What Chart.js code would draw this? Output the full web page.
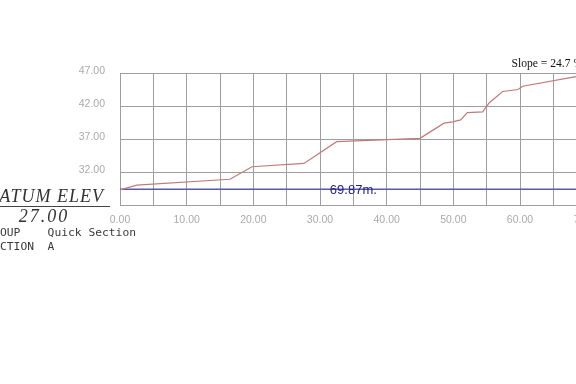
<!DOCTYPE html>
<html>
<head>
<meta charset="utf-8">
<script src="https://cdn.jsdelivr.net/npm/chart.js@4"></script>
<style>
  html, body { margin: 0; padding: 0; background: #fff; overflow: hidden; }
  #wrap { width: 576px; height: 384px; overflow: hidden; position: relative; }
  canvas { position: absolute; left: 0; top: 0; }
</style>
</head>
<body>
<div id="wrap"><canvas id="section" width="629" height="384"></canvas></div>
<script>
// ground profile
const stations   = [0, 2.5, 16.5, 19.8, 27.6, 32.5, 45.0, 48.6, 49.9, 51.1, 52.1, 54.4, 55.4, 57.4, 59.7, 60.4, 68.6, 70];
const elevations = [29.3, 30.0, 30.9, 32.8, 33.3, 36.6, 37.1, 39.4, 39.6, 39.9, 41.0, 41.1, 42.5, 44.2, 44.5, 45.0, 46.5, 46.75];

// datum line
const datumStations = [0, 75];
const datumElev = [29.38, 29.38];
const datumText = '69.87m.';
const datumTextAt = 35;

const xTicks = [0, 10, 20, 30, 40, 50, 60, 70];
const yTicks = [32, 37, 42, 47];
const slopeText = 'Slope = 24.7 %';

const extras = {
  id: 'extras',
  afterDraw(chart) {
    const ctx = chart.ctx;
    const xs = chart.scales.x, ys = chart.scales.y;
    ctx.save();

    // datum label sitting on the line
    ctx.font = '13px "Liberation Sans", Arial, sans-serif';
    ctx.fillStyle = '#232383';
    ctx.textAlign = 'center';
    ctx.textBaseline = 'middle';
    ctx.fillText(datumText, xs.getPixelForValue(datumTextAt), ys.getPixelForValue(datumElev[0]) + 1);

    // slope note
    ctx.font = '11.6px "Liberation Serif", "Times New Roman", serif';
    ctx.fillStyle = '#111';
    ctx.textAlign = 'left';
    ctx.textBaseline = 'alphabetic';
    ctx.fillText(slopeText, 511.5, 66.5);

    // left side title block
    ctx.fillStyle = '#333';
    ctx.font = 'italic 18px "Liberation Serif", serif';
    ctx.letterSpacing = '1px';
    ctx.textAlign = 'right';
    ctx.fillText('DATUM ELEV', 104, 201.5);
    ctx.strokeStyle = '#444';
    ctx.lineWidth = 1;
    ctx.beginPath();
    ctx.moveTo(0, 206.5);
    ctx.lineTo(110, 206.5);
    ctx.stroke();

    ctx.letterSpacing = '2px';
    ctx.textAlign = 'center';
    ctx.fillText('27.00', 44, 221.5);

    ctx.letterSpacing = '0px';
    ctx.font = '11.3px "DejaVu Sans Mono", monospace';
    ctx.textAlign = 'left';
    ctx.fillStyle = '#3a3a3a';
    ctx.fillText('GROUP    Quick Section', -13.6, 236);
    ctx.fillText('SECTION  A', -13.6, 250);
    ctx.restore();
  }
};

new Chart(document.getElementById('section'), {
  type: 'line',
  data: {
    datasets: [
      {
        label: 'Ground',
        data: stations.map((s, i) => ({ x: s, y: elevations[i] })),
        borderColor: '#bf7a7a',
        borderWidth: 1.2,
        pointRadius: 0,
        tension: 0
      },
      {
        label: 'Datum',
        data: datumStations.map((s, i) => ({ x: s, y: datumElev[i] })),
        borderColor: '#5a5aa6',
        borderWidth: 1.5,
        pointRadius: 0
      }
    ]
  },
  options: {
    responsive: false,
    animation: false,
    layout: { padding: { top: 73, left: 0, right: 1, bottom: 0 } },
    plugins: { legend: { display: false }, tooltip: { enabled: false } },
    scales: {
      x: {
        type: 'linear',
        min: 0,
        max: 75,
        afterFit: s => { s.height = 179; },
        grid: { color: '#9e9e9e', lineWidth: 1, drawTicks: false },
        border: { color: '#9e9e9e' },
        ticks: {
          stepSize: 5,
          padding: 9,
          maxRotation: 0,
          autoSkip: false,
          color: '#aaa',
          font: { family: '"Liberation Sans", Arial, sans-serif', size: 10.5 },
          callback: v => xTicks.includes(v) ? v.toFixed(2) : ''
        }
      },
      y: {
        min: 27,
        max: 47,
        afterFit: s => { s.width = 120; },
        grid: { color: '#9e9e9e', lineWidth: 1, drawTicks: false },
        border: { color: '#9e9e9e' },
        ticks: {
          stepSize: 5,
          padding: 15,
          labelOffset: -2,
          color: '#aaa',
          font: { family: '"Liberation Sans", Arial, sans-serif', size: 10.5 },
          callback: v => yTicks.includes(v) ? v.toFixed(2) : ''
        }
      }
    }
  },
  plugins: [extras]
});
</script>
</body>
</html>
